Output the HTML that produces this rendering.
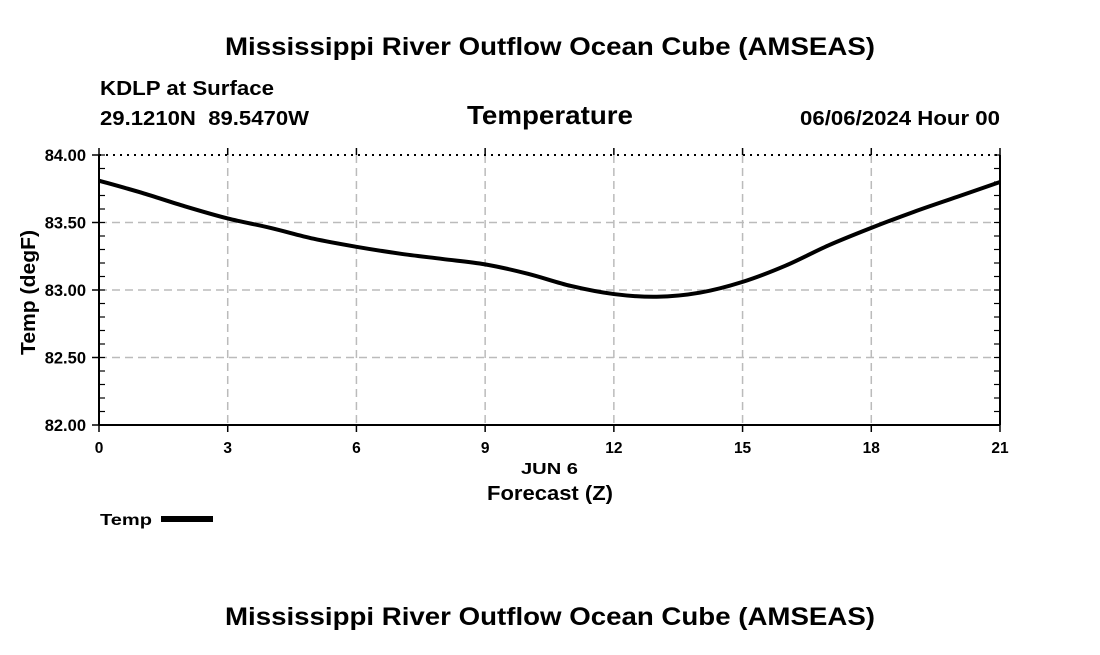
<!DOCTYPE html>
<html><head><meta charset="utf-8"><style>
body{margin:0;background:#fff;width:1100px;height:650px;overflow:hidden;font-family:"Liberation Sans",sans-serif}
text{white-space:pre}
</style></head><body>
<svg id="chart" width="1100" height="650" font-family="Liberation Sans, sans-serif" font-weight="bold">
<text x="225" y="55" font-size="25" textLength="650" lengthAdjust="spacingAndGlyphs">Mississippi River Outflow Ocean Cube (AMSEAS)</text>
<text x="100" y="95" font-size="20" textLength="174" lengthAdjust="spacingAndGlyphs">KDLP at Surface</text>
<text x="100" y="125" font-size="20" textLength="209" lengthAdjust="spacingAndGlyphs">29.1210N  89.5470W</text>
<text x="467" y="124" font-size="26" textLength="166" lengthAdjust="spacingAndGlyphs">Temperature</text>
<text x="800" y="125" font-size="20" textLength="200" lengthAdjust="spacingAndGlyphs">06/06/2024 Hour 00</text>
<g id="grid"></g>
<g id="axes"></g>
<path id="line" fill="none" stroke="#000" stroke-width="4"/>
<text x="521" y="474" font-size="16" textLength="57" lengthAdjust="spacingAndGlyphs">JUN 6</text>
<text x="487" y="500" font-size="20" textLength="126" lengthAdjust="spacingAndGlyphs">Forecast (Z)</text>
<text transform="translate(35,355) rotate(-90)" font-size="20" textLength="125" lengthAdjust="spacingAndGlyphs">Temp (degF)</text>
<text x="100" y="525" font-size="16" textLength="52" lengthAdjust="spacingAndGlyphs">Temp</text>
<rect x="161" y="516" width="52" height="6" fill="#000"/>
<text x="225" y="625" font-size="25" textLength="650" lengthAdjust="spacingAndGlyphs">Mississippi River Outflow Ocean Cube (AMSEAS)</text>
</svg>
<script>
const hours=[0,1,2,3,4,5,6,7,8,9,10,11,12,13,14,15,16,17,18,19,20,21];
const temps=[83.81,83.72,83.62,83.53,83.46,83.38,83.32,83.27,83.23,83.19,83.12,83.03,82.97,82.95,82.98,83.06,83.18,83.33,83.46,83.58,83.69,83.80];
const xTicks=[0,3,6,9,12,15,18,21];
const yTicks=[82.00,82.50,83.00,83.50,84.00];
const L=99,R=1000,T=155,B=425;
const xs=h=>L+(h-0)/21*(R-L);
const ys=v=>B-(v-82)/2*(B-T);
const NS='http://www.w3.org/2000/svg';
const grid=document.getElementById('grid'),axes=document.getElementById('axes');
function mk(p,tag,a){const e=document.createElementNS(NS,tag);for(const k in a)e.setAttribute(k,a[k]);p.appendChild(e);return e;}
xTicks.forEach(t=>{
 const x=xs(t);
 if(t>0&&t<21){const g=mk(grid,'line',{x1:x,x2:x,y1:T,y2:B,stroke:'#bbb','stroke-width':1.5,'stroke-dasharray':'8,5'});
 
 }
 mk(axes,'line',{x1:x,x2:x,y1:T-7,y2:T,stroke:'#000','stroke-width':1.5});
 mk(axes,'line',{x1:x,x2:x,y1:B,y2:B+7,stroke:'#000','stroke-width':1.5});
 const lb=mk(axes,'text',{x:x,y:B+28,'text-anchor':'middle','font-size':15.5});lb.textContent=t;
 
 
});
yTicks.forEach(v=>{
 const y=ys(v);
 if(v>82&&v<84){const g=mk(grid,'line',{x1:L,x2:R,y1:y,y2:y,stroke:'#bbb','stroke-width':1.5,'stroke-dasharray':'8,5'});
 
 }
 mk(axes,'line',{x1:L-7,x2:L,y1:y,y2:y,stroke:'#000','stroke-width':1.5});
 const lb=mk(axes,'text',{x:L-13,y:y+6,'text-anchor':'end','font-size':16.5});lb.textContent=v.toFixed(2);
 
 
});
for(let v=82.1;v<84;v+=0.1){const y=ys(v);mk(axes,'line',{x1:L,x2:L+6,y1:y,y2:y,stroke:'#000','stroke-width':1.2});mk(axes,'line',{x1:R-6,x2:R,y1:y,y2:y,stroke:'#000','stroke-width':1.2});}
mk(axes,'line',{x1:L,x2:R,y1:T,y2:T,stroke:'#000','stroke-width':2,'stroke-dasharray':'2,5'});
mk(axes,'line',{x1:L,x2:R,y1:B,y2:B,stroke:'#000','stroke-width':2});
mk(axes,'line',{x1:L,x2:L,y1:T,y2:B,stroke:'#000','stroke-width':2});
mk(axes,'line',{x1:R,x2:R,y1:T,y2:B,stroke:'#000','stroke-width':2});
const pts=hours.map((h,i)=>[xs(h),ys(temps[i])]);
let d='M'+pts[0][0]+','+pts[0][1];
for(let i=0;i<pts.length-1;i++){
 const p0=pts[i-1]||pts[i],p1=pts[i],p2=pts[i+1],p3=pts[i+2]||p2;
 d+=' C'+(p1[0]+(p2[0]-p0[0])/6)+','+(p1[1]+(p2[1]-p0[1])/6)+' '+(p2[0]-(p3[0]-p1[0])/6)+','+(p2[1]-(p3[1]-p1[1])/6)+' '+p2[0]+','+p2[1];
}
document.getElementById('line').setAttribute('d',d);
</script>
</body></html>
